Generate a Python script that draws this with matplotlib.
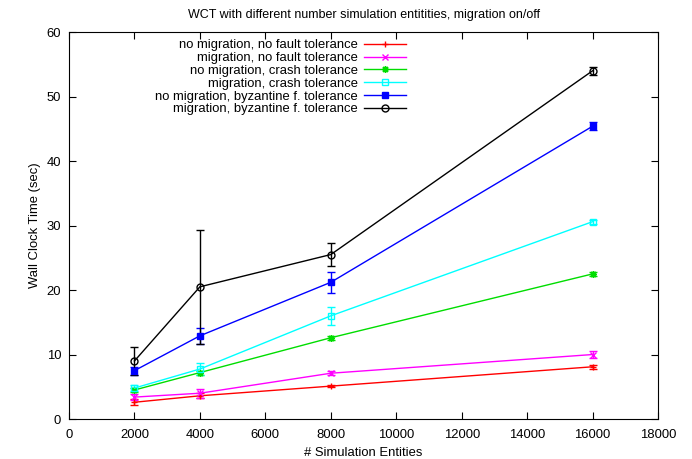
import numpy as np
import matplotlib
matplotlib.use("Agg")
import matplotlib.pyplot as plt
from matplotlib.lines import Line2D

plt.rcParams['font.family'] = ['Liberation Sans', 'DejaVu Sans']
plt.rcParams['font.size'] = 9.4

entities = [2000, 4000, 8000, 16000]

labels = ["no migration, no fault tolerance",
          "migration, no fault tolerance",
          "no migration, crash tolerance",
          "migration, crash tolerance",
          "no migration, byzantine f. tolerance",
          "migration, byzantine f. tolerance"]

nomig_noft = [2.6, 3.6, 5.1, 8.1]
nomig_noft_err = [0.5, 0.4, 0.2, 0.3]
mig_noft = [3.4, 4.0, 7.1, 10.0]
mig_noft_err = [0.5, 0.7, 0.3, 0.6]
nomig_crash = [4.5, 7.2, 12.6, 22.5]
nomig_crash_err = [0.3, 0.3, 0.3, 0.3]
mig_crash = [4.8, 7.75, 16.0, 30.6]
mig_crash_err = [0.4, 0.9, 1.35, 0.3]
nomig_byz = [7.5, 12.9, 21.2, 45.4]
nomig_byz_err = [0.6, 1.2, 1.65, 0.6]
mig_byz = [9.0, 20.5, 25.5, 54.0]
mig_byz_err = [2.2, 8.8, 1.8, 0.6]

series = [nomig_noft, mig_noft, nomig_crash, mig_crash, nomig_byz, mig_byz]
errors = [nomig_noft_err, mig_noft_err, nomig_crash_err, mig_crash_err, nomig_byz_err, mig_byz_err]
colors = ['#ff0000', '#ff00ff', '#00dd00', '#00ffff', '#0000ff', '#000000']
markers = ['+', 'x', (8, 2, 0), 's', 's', 'o']
filled = [True, True, True, False, True, False]

fig = plt.figure(figsize=(6.92, 4.59), dpi=100)
ax = fig.add_axes([0.0997, 0.0871, 0.8513, 0.8431])

handles = []
for y, e, c, m, f, lab in zip(series, errors, colors, markers, filled, labels):
    style = dict(color=c, marker=m, markersize=5,
                 markerfacecolor=c if f else 'none',
                 markeredgecolor=c, markeredgewidth=1.0, lw=1.0)
    ax.errorbar(entities, y, yerr=e, ecolor=c, elinewidth=1.0, capsize=3, **style)
    handles.append(Line2D([], [], label=lab, **style))

ax.set_xlim(0, 18000)
ax.set_ylim(0, 60)
ax.set_xticks(np.arange(0, 18001, 2000))
ax.set_yticks(np.arange(0, 61, 10))
ax.tick_params(direction='in', top=True, right=True, length=5, width=0.8)
ax.tick_params(axis='x', pad=7.5)
ax.tick_params(axis='y', pad=5.7)
ax.set_xlabel("# Simulation Entities")
ax.set_ylabel("Wall Clock Time (sec)")
ax.set_title("WCT with different number simulation entitities, migration on/off",
             fontsize=9, pad=10)

ax.legend(handles=handles, loc='upper right', bbox_to_anchor=(0.5835, 1.0), frameon=False,
          markerfirst=False, handlelength=3.15, labelspacing=0.05, handletextpad=0.5,
          borderaxespad=0.15)

fig.savefig("out.png", dpi=100)
